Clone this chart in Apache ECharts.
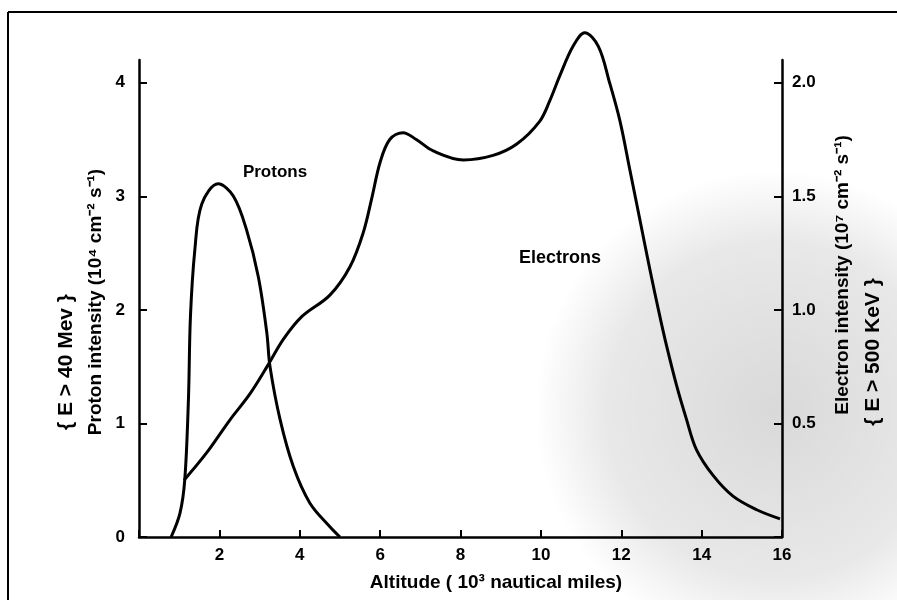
<!DOCTYPE html>
<html>
<head>
<meta charset="utf-8">
<script src="https://cdn.jsdelivr.net/npm/echarts@6/dist/echarts.min.js"></script>
<style>
  html, body { margin: 0; padding: 0; background: #fff; }
  #chart { width: 897px; height: 600px; }
</style>
</head>
<body>
<div id="chart"></div>
<script>
// altitude in 10^3 nautical miles
const altTicks = [0, 2, 4, 6, 8, 10, 12, 14, 16];

// protons, left axis (10^4 cm^-2 s^-1)
const protonAlt = [0.8, 1.02, 1.14, 1.23, 1.28, 1.39, 1.56, 1.97, 2.35, 2.68, 2.97, 3.18, 3.26, 3.51, 3.84, 4.25, 4.75, 5.0];
const protonVal = [0, 0.21, 0.51, 1.21, 1.94, 2.53, 2.93, 3.11, 3.0, 2.7, 2.29, 1.8, 1.5, 1.035, 0.62, 0.3, 0.09, 0];

// electrons, right axis (10^7 cm^-2 s^-1)
const electronAlt = [1.12, 1.68, 2.26, 2.76, 3.22, 3.59, 4.05, 4.75, 5.25, 5.58, 5.79, 6.0, 6.24, 6.57, 6.9, 7.32, 8.07, 8.81, 9.4, 9.97, 10.22, 10.47, 10.8, 11.09, 11.43, 11.71, 11.97, 12.21, 12.46, 12.71, 12.95, 13.13, 13.38, 13.62, 13.87, 14.29, 14.78, 15.37, 15.95];
const electronVal = [0.25, 0.37, 0.515, 0.63, 0.76, 0.87, 0.97, 1.065, 1.19, 1.34, 1.49, 1.65, 1.75, 1.78, 1.75, 1.70, 1.66, 1.68, 1.73, 1.83, 1.92, 2.03, 2.16, 2.22, 2.16, 2.0, 1.83, 1.62, 1.40, 1.18, 0.98, 0.84, 0.665, 0.52, 0.385, 0.27, 0.18, 0.12, 0.08];

const protonTicks = [0, 1, 2, 3, 4];
const electronTicks = [0.5, 1.0, 1.5, 2.0];

const font = 'Liberation Sans, Arial, sans-serif';

const chart = echarts.init(document.getElementById('chart'));

const axisStyle = { color: '#000', width: 2.5 };
const labelStyle = { color: '#000', fontFamily: font, fontWeight: 'bold', fontSize: 17 };

function label(x, y, text, size, rotate) {
  return {
    type: 'text', x: x, y: y, rotation: rotate ? Math.PI / 2 : 0,
    style: { text: text, font: 'bold ' + size + 'px ' + font, fill: '#000', textAlign: 'center', textVerticalAlign: 'middle' }
  };
}

chart.setOption({
  backgroundColor: '#fff',
  animation: false,
  grid: { left: 139, right: 115, top: 60, bottom: 63 },
  xAxis: {
    type: 'value',
    min: altTicks[0],
    max: altTicks[altTicks.length - 1],
    interval: 2,
    axisLine: { show: true, lineStyle: axisStyle },
    axisTick: { show: true, inside: true, length: 7, lineStyle: { color: '#000', width: 2 } },
    axisLabel: Object.assign({}, labelStyle, {
      margin: 10,
      formatter: v => (v === 0 ? '' : String(v))
    }),
    splitLine: { show: false }
  },
  yAxis: [
    {
      type: 'value',
      position: 'left',
      min: 0,
      max: 4.2,
      interval: 1,
      axisLine: { show: true, onZero: false, lineStyle: axisStyle },
      axisTick: { show: true, inside: true, length: 8, lineStyle: { color: '#000', width: 2 } },
      axisLabel: Object.assign({}, labelStyle, {
        margin: 14,
        showMaxLabel: false,
        formatter: v => (protonTicks.indexOf(v) >= 0 ? String(v) : '')
      }),
      splitLine: { show: false }
    },
    {
      type: 'value',
      position: 'right',
      min: 0,
      max: 2.1,
      interval: 0.5,
      axisLine: { show: true, onZero: false, lineStyle: axisStyle },
      axisTick: { show: true, inside: true, length: 8, lineStyle: { color: '#000', width: 2 } },
      axisLabel: Object.assign({}, labelStyle, {
        margin: 10,
        showMaxLabel: false,
        formatter: v => (electronTicks.indexOf(v) >= 0 ? v.toFixed(1) : '')
      }),
      splitLine: { show: false }
    }
  ],
  series: [
    {
      name: 'Protons',
      type: 'line',
      yAxisIndex: 0,
      data: protonAlt.map((x, i) => [x, protonVal[i]]),
      smooth: 0.35,
      showSymbol: false,
      clip: false,
      lineStyle: { color: '#000', width: 3 }
    },
    {
      name: 'Electrons',
      type: 'line',
      yAxisIndex: 1,
      data: electronAlt.map((x, i) => [x, electronVal[i]]),
      smooth: 0.35,
      showSymbol: false,
      clip: false,
      lineStyle: { color: '#000', width: 3 }
    }
  ],
  graphic: [
    // faint scan shading on the right
    {
      type: 'circle', z: -10, silent: true,
      shape: { cx: 775, cy: 410, r: 240 },
      style: {
        fill: new echarts.graphic.RadialGradient(0.5, 0.5, 0.5, [
          { offset: 0, color: 'rgba(0,0,0,0.15)' },
          { offset: 0.7, color: 'rgba(0,0,0,0.09)' },
          { offset: 1, color: 'rgba(0,0,0,0)' }
        ])
      }
    },
    // page frame
    { type: 'line', shape: { x1: 8, y1: 12, x2: 897, y2: 12 }, style: { stroke: '#000', lineWidth: 2 } },
    { type: 'line', shape: { x1: 8, y1: 12, x2: 8, y2: 600 }, style: { stroke: '#000', lineWidth: 2 } },
    // curve labels
    label(275, 172, 'Protons', 17),
    label(560, 258, 'Electrons', 18),
    // x axis title
    label(496, 583, 'Altitude ( 10³ nautical miles)', 19),
    // left axis titles
    label(96, 302, 'Proton intensity (10⁴ cm⁻² s⁻¹)', 19, true),
    label(66, 362, '{ E > 40 Mev }', 21, true),
    // right axis titles
    label(843, 275, 'Electron intensity (10⁷ cm⁻² s⁻¹)', 19, true),
    label(873, 352, '{ E > 500 KeV }', 21, true)
  ]
});
</script>
</body>
</html>
